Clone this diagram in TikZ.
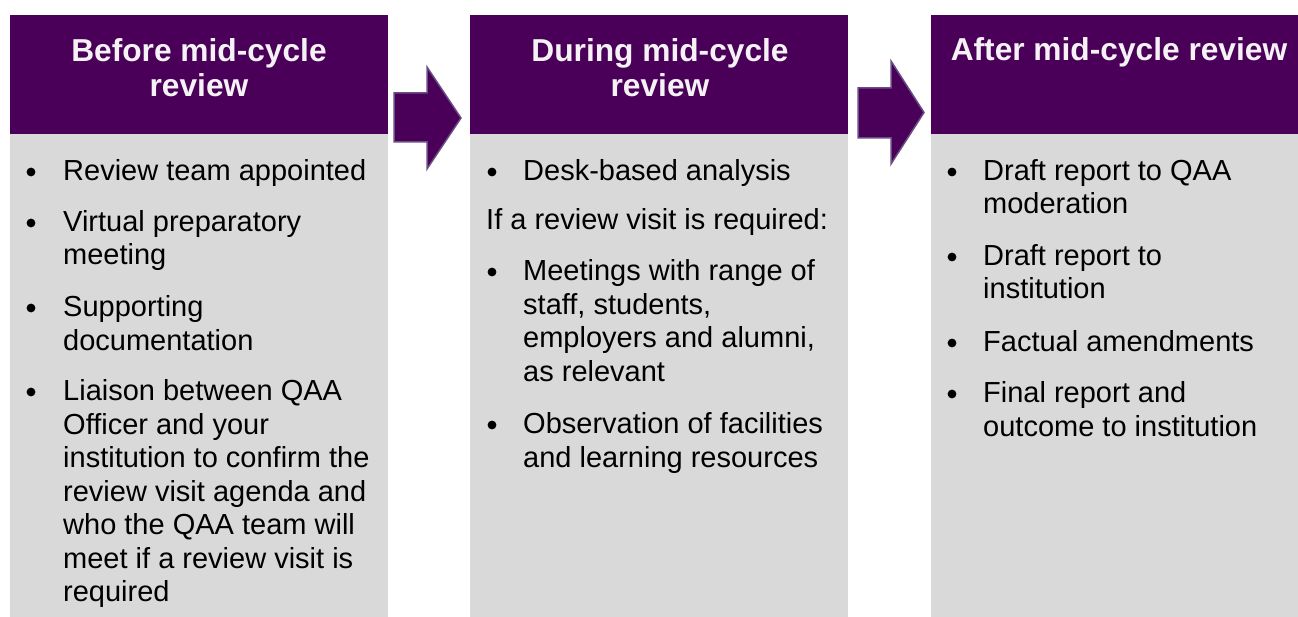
\documentclass[tikz,border=0pt]{standalone}
\usepackage{fontspec}
\setmainfont{Liberation Sans}
\definecolor{qpurple}{HTML}{4A0058}
\definecolor{qgray}{HTML}{D9D9D9}
\definecolor{qedge}{HTML}{694D85}
\definecolor{qwhite}{HTML}{F4F2F5}
\tikzset{
  headbox/.style={fill=qpurple, draw=none, inner sep=0pt, anchor=north west},
  bodybox/.style={fill=qgray, draw=none, inner sep=0pt, anchor=north west},
  headtxt/.style={text=qwhite, font=\bfseries\fontsize{31.7}{35.5}\selectfont, inner sep=0pt, anchor=base},
  bodytxt/.style={text=black, font=\fontsize{29}{33.5}\selectfont, inner sep=0pt, anchor=base west},
  blockarrow/.style={fill=qpurple, draw=qedge, line width=1.5pt, line join=miter},
  dot/.style={fill=black}
}
\begin{document}
\begin{tikzpicture}[x=1pt,y=-1pt]
\useasboundingbox (0,0) rectangle (1298,617);
% column boxes
\node[headbox, minimum width=378pt, minimum height=119pt] (h1) at (10,15) {};
\node[bodybox, minimum width=378pt, minimum height=483pt] (b1) at (10,134) {};
\node[headbox, minimum width=378pt, minimum height=119pt] (h2) at (470,15) {};
\node[bodybox, minimum width=378pt, minimum height=483pt] (b2) at (470,134) {};
\node[headbox, minimum width=367pt, minimum height=119pt] (h3) at (931,15) {};
\node[bodybox, minimum width=367pt, minimum height=483pt] (b3) at (931,134) {};
% block arrows
\draw[blockarrow] (394,93) -- (427,93) -- (427,67) -- (461,118) -- (427,169) -- (427,142) -- (394,142) -- cycle;
\draw[blockarrow] (858,88) -- (891,88) -- (891,61) -- (924,112.5) -- (891,164) -- (891,138) -- (858,138) -- cycle;
% headers
\node[headtxt] (h1a) at (199,62) {Before mid-cycle};
\node[headtxt] (h1b) at (199,97) {review};
\node[headtxt] (h2a) at (660,62) {During mid-cycle};
\node[headtxt] (h2b) at (660,97) {review};
\node[headtxt] (h3a) at (1119,61) {After mid-cycle review};
% column 1
\fill[dot] (31,172) circle (4.4);
\node[bodytxt] (c1l1) at (63,180.5) {Review team appointed};
\fill[dot] (31,223) circle (4.4);
\node[bodytxt] (c1l2) at (63,231.5) {Virtual preparatory};
\node[bodytxt] (c1l3) at (63,265) {meeting};
\fill[dot] (31,308) circle (4.4);
\node[bodytxt] (c1l4) at (63,316.5) {Supporting};
\node[bodytxt] (c1l5) at (63,350.5) {documentation};
\fill[dot] (31,392) circle (4.4);
\node[bodytxt] (c1l6) at (63,400.5) {Liaison between QAA};
\node[bodytxt] (c1l7) at (63,434) {Officer and your};
\node[bodytxt] (c1l8) at (63,467.5) {institution to confirm the};
\node[bodytxt] (c1l9) at (63,501) {review visit agenda and};
\node[bodytxt] (c1l10) at (63,534.5) {who the QAA team will};
\node[bodytxt] (c1l11) at (63,568) {meet if a review visit is};
\node[bodytxt] (c1l12) at (63,601.5) {required};
% column 2
\fill[dot] (492,172) circle (4.4);
\node[bodytxt] (c2l1) at (523,180.5) {Desk-based analysis};
\node[bodytxt] (c2l2) at (486,229.5) {If a review visit is required:};
\fill[dot] (492,272) circle (4.4);
\node[bodytxt] (c2l3) at (523,280.5) {Meetings with range of};
\node[bodytxt] (c2l4) at (523,314.5) {staff, students,};
\node[bodytxt] (c2l5) at (523,348) {employers and alumni,};
\node[bodytxt] (c2l6) at (523,381.5) {as relevant};
\fill[dot] (492,425) circle (4.4);
\node[bodytxt] (c2l7) at (523,433.5) {Observation of facilities};
\node[bodytxt] (c2l8) at (523,467) {and learning resources};
% column 3
\fill[dot] (952,172) circle (4.4);
\node[bodytxt] (c3l1) at (983,180.5) {Draft report to QAA};
\node[bodytxt] (c3l2) at (983,214) {moderation};
\fill[dot] (952,257) circle (4.4);
\node[bodytxt] (c3l3) at (983,265.5) {Draft report to};
\node[bodytxt] (c3l4) at (983,299) {institution};
\fill[dot] (952,343) circle (4.4);
\node[bodytxt] (c3l5) at (983,351.5) {Factual amendments};
\fill[dot] (952,394) circle (4.4);
\node[bodytxt] (c3l6) at (983,402.5) {Final report and};
\node[bodytxt] (c3l7) at (983,436) {outcome to institution};
\end{tikzpicture}
\end{document}
